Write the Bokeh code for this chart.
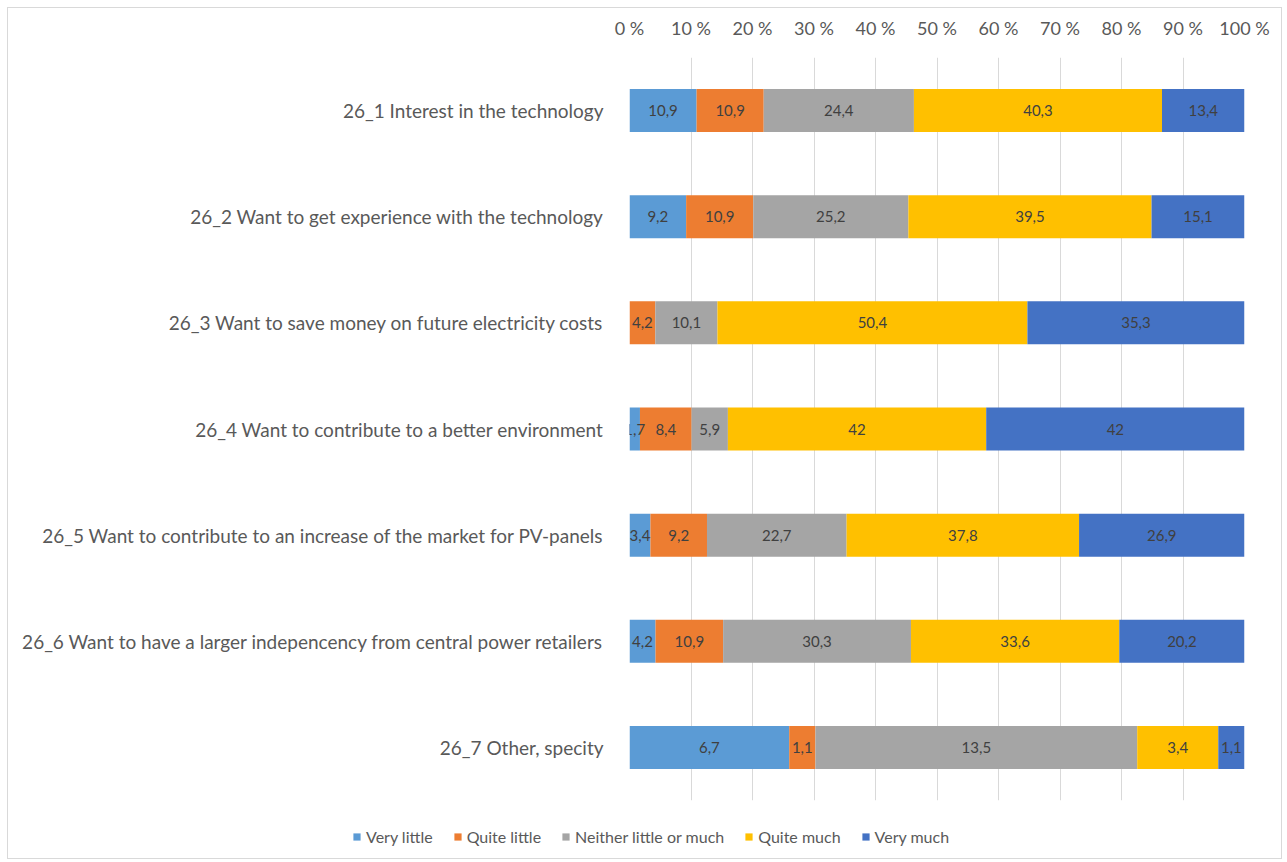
from bokeh.plotting import figure
from bokeh.layouts import column
from bokeh.models import (ColumnDataSource, FactorRange, Legend, LegendItem,
                          CustomJSTickFormatter, FixedTicker)
from bokeh.core.properties import value
from bokeh.embed import file_html
from bokeh.resources import INLINE

categories = [
    "26_1 Interest in the technology",
    "26_2 Want to get experience with the technology",
    "26_3 Want to save money on future electricity costs",
    "26_4 Want to contribute to a better environment",
    "26_5 Want to contribute to an increase of the market for PV-panels",
    "26_6 Want to have a larger indepencency from central power retailers",
    "26_7 Other, specity",
]
series = ["Very little", "Quite little", "Neither little or much", "Quite much", "Very much"]
very_little = [10.9, 9.2, 0, 1.7, 3.4, 4.2, 6.7]
quite_little = [10.9, 10.9, 4.2, 8.4, 9.2, 10.9, 1.1]
neither = [24.4, 25.2, 10.1, 5.9, 22.7, 30.3, 13.5]
quite_much = [40.3, 39.5, 50.4, 42, 37.8, 33.6, 3.4]
very_much = [13.4, 15.1, 35.3, 42, 26.9, 20.2, 1.1]
colors = ["#5B9BD5", "#ED7D31", "#A5A5A5", "#FFC000", "#4472C4"]
tick_values = [0, 10, 20, 30, 40, 50, 60, 70, 80, 90, 100]

raw = [very_little, quite_little, neither, quite_much, very_much]
keys = ["s0", "s1", "s2", "s3", "s4"]
totals = [sum(col[i] for col in raw) for i in range(len(categories))]
data = {"cat": categories}
for k, col in zip(keys, raw):
    data[k] = [v / t * 100 for v, t in zip(col, totals)]
src = ColumnDataSource(data)

FONT = "Lato"
W = 1273
p = figure(width=W, height=802, y_range=FactorRange(*reversed(categories)),
           x_range=(0, 100), output_backend="svg", toolbar_location=None,
           x_axis_location="above", min_border_left=621, min_border_top=49,
           min_border_right=37, min_border_bottom=10)
p.frame_align = False
p.outline_line_color = None
p.background_fill_color = "white"
p.border_fill_color = "white"

renders = p.hbar_stack(keys, y="cat", height=0.405, color=colors, source=src,
                       line_color=None)

# data labels
lx, ly, lt = [], [], []
for i, c in enumerate(categories):
    cum = 0.0
    for j, k in enumerate(keys):
        v = data[k][i]
        if raw[j][i] > 0:
            lx.append(cum + v / 2)
            ly.append(c)
            lt.append(("%g" % raw[j][i]).replace(".", ","))
        cum += v
p.text(x=lx, y=ly, text=lt, text_align="center", text_baseline="middle",
       text_font=value(FONT), text_font_size="15px", text_color="#404040")

p.xaxis.ticker = FixedTicker(ticks=tick_values)
p.xaxis.formatter = CustomJSTickFormatter(code="return tick + ' %';")
for ax in (p.xaxis, p.yaxis):
    ax.axis_line_color = None
    ax.major_tick_line_color = None
    ax.minor_tick_line_color = None
    ax.major_label_text_font = FONT
    ax.major_label_text_color = "#595959"
p.xaxis.major_label_text_font_size = "18px"
p.yaxis.major_label_text_font_size = "19px"
p.xaxis.major_label_standoff = 13
p.yaxis.major_label_standoff = 20
p.xgrid.ticker = FixedTicker(ticks=tick_values)
p.xgrid.grid_line_color = "#d9d9d9"
p.ygrid.grid_line_color = None

# legend strip (separate figure so the legend can sit under the labels too)
lg = figure(width=W, height=48, x_range=(0, 10), y_range=(0, 10),
            output_backend="svg", toolbar_location=None,
            x_axis_location=None, y_axis_location=None,
            min_border_left=0, min_border_right=0, min_border_top=0, min_border_bottom=0)
lg.frame_align = False
lg.outline_line_color = None
lg.grid.visible = False
dummies = [lg.hbar(y=[-5], left=[0], right=[1], height=1, color=c, line_color=None)
           for c in colors]
legend = Legend(items=[LegendItem(label=s, renderers=[r]) for s, r in zip(series, dummies)],
                orientation="horizontal", location=(344, 12),
                label_text_font=FONT, label_text_font_size="16px",
                label_text_color="#595959", glyph_width=9, glyph_height=9,
                label_height=20, spacing=20, border_line_color=None,
                background_fill_alpha=0, label_standoff=5, padding=0, margin=0)
lg.add_layout(legend, "center")

layout = column(p, lg, spacing=0)
layout.margin = (7, 0, 0, 7)
layout.styles = {"border": "1px solid #d9d9d9"}

open("out.html", "w").write(file_html(layout, INLINE))
